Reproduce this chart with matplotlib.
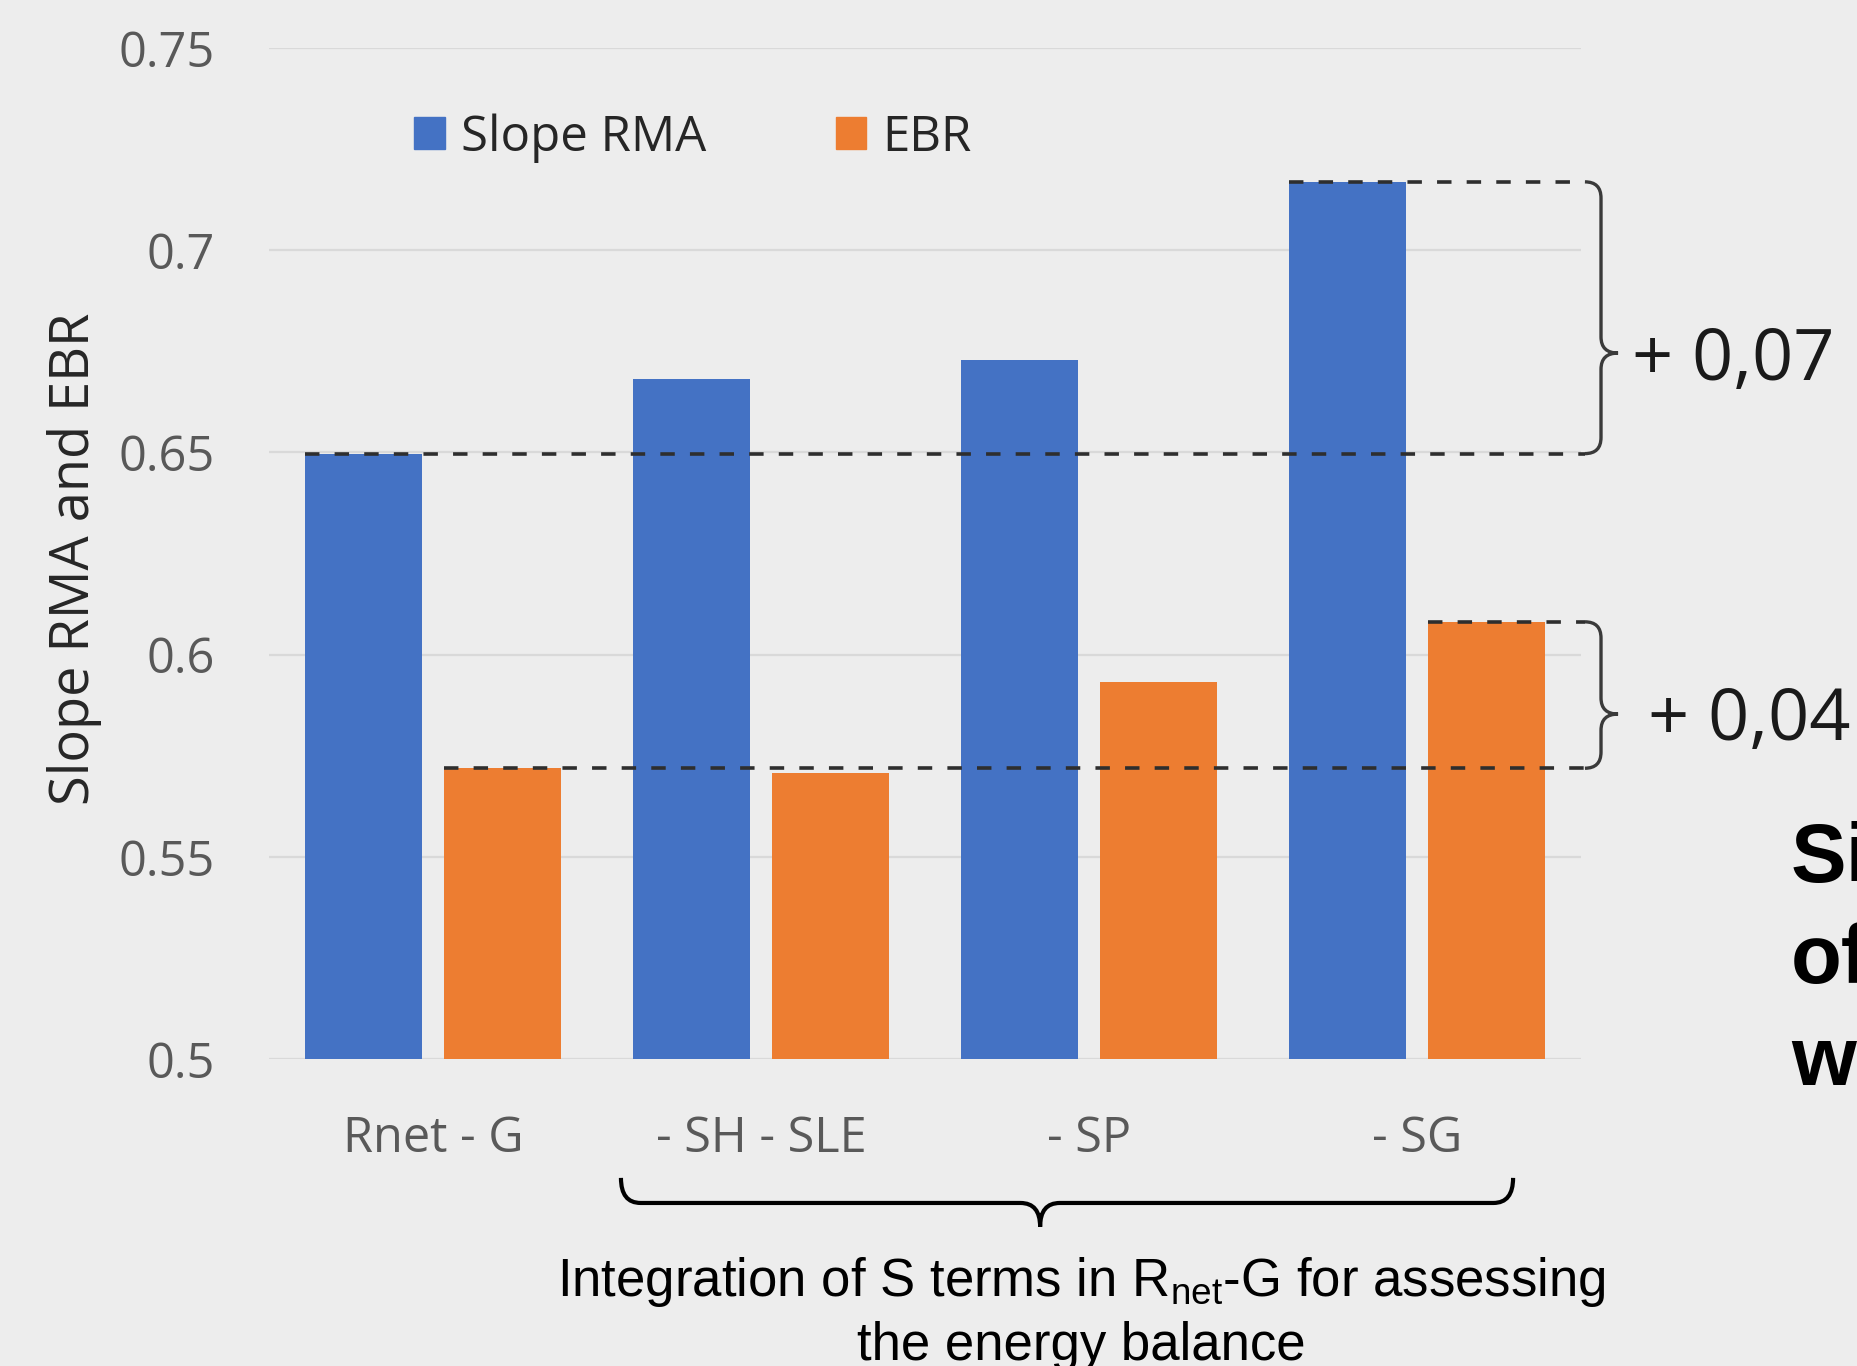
import numpy as np
import matplotlib
matplotlib.use("Agg")
import matplotlib.pyplot as plt
from matplotlib.path import Path
from matplotlib.patches import PathPatch, Patch
from matplotlib import font_manager as fm

names = {f.name for f in fm.fontManager.ttflist}
NARROW = 'Liberation Sans Narrow' if 'Liberation Sans Narrow' in names else 'Liberation Sans'
plt.rcParams.update({'font.family': ['Open Sans', 'DejaVu Sans'], 'mathtext.default': 'regular'})

categories = ["Rnet - G", "- SH - SLE", "- SP", "- SG"]
slope_rma = [0.6497, 0.6681, 0.6728, 0.7169]
ebr = [0.5719, 0.5707, 0.5932, 0.6081]
yticks = [0.5, 0.55, 0.6, 0.65, 0.7, 0.75]

BLUE = "#4472C4"; ORANGE = "#ED7D31"; BG = "#EDEDED"; GRID = "#D9D9D9"
W, H = 1857, 1366
fig = plt.figure(figsize=(W/100, H/100), dpi=100)
fig.patch.set_facecolor(BG)
ax = fig.add_axes([269/W, 1-1059/H, 1312/W, (1059-48)/H])
ax.set_facecolor(BG)

x = np.arange(len(categories))
bw, off = 0.357, 0.212
ax.bar(x - off, slope_rma, bw, color=BLUE, zorder=2, label="Slope RMA")
ax.bar(x + off, ebr, bw, color=ORANGE, zorder=2, label="EBR")

ax.set_xlim(-0.5, 3.5); ax.set_ylim(0.5, 0.75)
ax.set_yticks(yticks)
ax.set_yticklabels([f"{v:g}" for v in yticks])
ax.set_xticks(x); ax.set_xticklabels(categories)
ax.grid(axis='y', color=GRID, lw=1.6, zorder=0); ax.set_axisbelow(True)
for s in ax.spines.values():
    s.set_visible(False)
ax.tick_params(axis='y', length=0, pad=39, labelsize=35, labelcolor='#595959')
ax.tick_params(axis='x', length=0, pad=40, labelsize=35, labelcolor='#595959')
ax.set_ylabel("Slope RMA and EBR", fontsize=39, color='#262626')
ax.yaxis.set_label_coords(-0.127, 0.495)

# legend
ax.legend(handles=[Patch(color=BLUE), Patch(color=ORANGE)], labels=["Slope RMA", "EBR"],
          ncol=2, frameon=False, fontsize=35.5, labelcolor='#262626',
          handlelength=0.62, handleheight=0.62, handletextpad=0.33, columnspacing=2.63,
          loc='center left', bbox_to_anchor=(414/W, 1-138/H), bbox_transform=fig.transFigure,
          borderpad=0, borderaxespad=0)

# dashed reference lines + right braces
XE, XV, XT = 3.512, 3.561, 3.613
ls = dict(colors='#2e2e2e', lw=2.6, linestyles=(0, (4, 4.2)), zorder=4, clip_on=False)
ax.hlines(slope_rma[0], x[0]-off-bw/2, XE, **ls)
ax.hlines(slope_rma[3], x[3]-off-bw/2, XE, **ls)
ax.hlines(ebr[0], x[0]+off-bw/2, XE, **ls)
ax.hlines(ebr[3], x[3]+off-bw/2, XE, **ls)

def vbrace(yt, yb, frac, rx=0.049, ry=0.004):
    ym = yt - frac*(yt - yb)
    verts = [(XE, yt), (XV, yt), (XV, yt-ry), (XV, ym+ry), (XV, ym), (XT, ym),
             (XV, ym), (XV, ym-ry), (XV, yb+ry), (XV, yb), (XE, yb)]
    codes = [Path.MOVETO, Path.CURVE3, Path.CURVE3, Path.LINETO, Path.CURVE3, Path.CURVE3,
             Path.CURVE3, Path.CURVE3, Path.LINETO, Path.CURVE3, Path.CURVE3]
    ax.add_patch(PathPatch(Path(verts, codes), fill=False, ec='#3a3a3a', lw=2.4,
                           clip_on=False, zorder=5))

vbrace(slope_rma[3], slope_rma[0], 0.63)
vbrace(ebr[3], ebr[0], 0.63)

# bottom brace
bx0, bx1, btip = 0.573, 3.293, 1.851
by0, byl, byt = 0.4706, 0.4644, 0.4585
rx, ry = 0.06, 0.0035
verts = [(bx0, by0), (bx0, byl), (bx0+rx, byl), (btip-rx, byl), (btip, byl), (btip, byt),
         (btip, byl), (btip+rx, byl), (bx1-rx, byl), (bx1, byl), (bx1, by0)]
codes = [Path.MOVETO, Path.CURVE3, Path.CURVE3, Path.LINETO, Path.CURVE3, Path.CURVE3,
         Path.CURVE3, Path.CURVE3, Path.LINETO, Path.CURVE3, Path.CURVE3]
ax.add_patch(PathPatch(Path(verts, codes), fill=False, ec='black', lw=3, clip_on=False, zorder=5))

# annotations
fig.text(1632/W, 1-361/H, "+ 0,07", ha='left', va='center', fontsize=52, color='#1a1a1a')
fig.text(1648/W, 1-721/H, "+ 0,04", ha='left', va='center', fontsize=52, color='#1a1a1a')
for t, yb in zip(["Si", "of", "w"], [882, 983, 1085]):
    fig.text(1791/W, 1-yb/H, t, ha='left', va='baseline', fontsize=60, fontweight='bold',
             family='Liberation Sans', color='black')
fig.text(1081/W, 1-1255/H,
         "Integration of S terms in R$_{\\mathregular{net}}$-G for assessing\nthe energy balance",
         ha='center', va='top', fontsize=38, family=NARROW, color='black', linespacing=1.3)

fig.savefig("out.png", dpi=100, facecolor=BG)
